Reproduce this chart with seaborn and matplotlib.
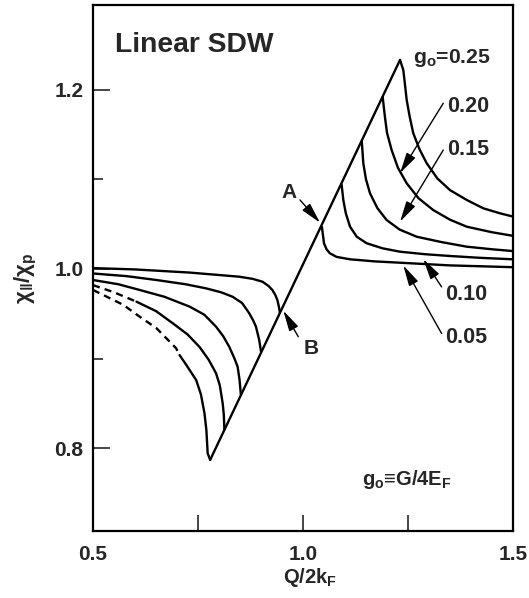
import matplotlib
matplotlib.use("Agg")
import matplotlib.pyplot as plt
import seaborn as sns
import pandas as pd

sns.set_style("white")
plt.rcParams['font.family'] = ['Liberation Sans', 'DejaVu Sans']
plt.rcParams['font.weight'] = 'bold'
plt.rcParams['mathtext.fontset'] = 'custom'
plt.rcParams['mathtext.rm'] = 'Liberation Sans:bold'
plt.rcParams['mathtext.it'] = 'Liberation Sans:bold'
plt.rcParams['mathtext.bf'] = 'Liberation Sans:bold'
plt.rcParams['mathtext.default'] = 'rm'

# ---- data ----
g_labels = ["0.05", "0.10", "0.15", "0.20", "0.25"]

# common diagonal line
diag_x = [0.779, 1.231]
diag_y = [0.787, 1.2333]

# left branches (Q/2kF < 1); dashed parts separate
left_005_x = [0.5, 0.6, 0.73, 0.848, 0.88, 0.9036, 0.918, 0.927, 0.934, 0.939, 0.943, 0.945]
left_005_y = [1.001, 0.9995, 0.996, 0.9914, 0.989, 0.9858, 0.981, 0.9766, 0.971, 0.9654, 0.957, 0.951]

left_010_x = [0.5, 0.58, 0.651, 0.72, 0.769, 0.805, 0.8325, 0.855, 0.872, 0.882, 0.888, 0.8957, 0.900]
left_010_y = [0.995, 0.992, 0.9877, 0.983, 0.9784, 0.974, 0.969, 0.962, 0.9506, 0.942, 0.9356, 0.9208, 0.908]

left_015_x = [0.5, 0.56, 0.611, 0.67, 0.73, 0.765, 0.793, 0.81, 0.8246, 0.836, 0.8443, 0.849, 0.852]
left_015_y = [0.9877, 0.983, 0.9766, 0.969, 0.958, 0.949, 0.9356, 0.925, 0.913, 0.901, 0.891, 0.876, 0.860]

left_020_dash_x = [0.5, 0.55, 0.6035]
left_020_dash_y = [0.982, 0.974, 0.9635]
left_020_x = [0.6035, 0.65, 0.69, 0.725, 0.7536, 0.775, 0.793, 0.802, 0.8088, 0.8115, 0.8128]
left_020_y = [0.9635, 0.953, 0.9394, 0.927, 0.913, 0.899, 0.8836, 0.870, 0.850, 0.837, 0.821]

left_025_dash_x = [0.5, 0.572, 0.611, 0.651, 0.698, 0.706]
left_025_dash_y = [0.9766, 0.960, 0.9468, 0.934, 0.9115, 0.904]
left_025_x = [0.706, 0.722, 0.7457, 0.757, 0.7654, 0.770, 0.773, 0.779]
left_025_y = [0.904, 0.893, 0.876, 0.860, 0.839, 0.820, 0.7943, 0.787]

# right branches (Q/2kF > 1)
right_005_x = [1.045, 1.048, 1.05, 1.056, 1.064, 1.08, 1.112, 1.17, 1.231, 1.35, 1.5]
right_005_y = [1.047, 1.036, 1.0287, 1.022, 1.0175, 1.0135, 1.0108, 1.0085, 1.007, 1.004, 1.002]

right_010_x = [1.092, 1.096, 1.102, 1.112, 1.128, 1.1516, 1.19, 1.231, 1.29, 1.35, 1.42, 1.5]
right_010_y = [1.094, 1.077, 1.062, 1.0472, 1.036, 1.0287, 1.023, 1.0193, 1.0165, 1.0145, 1.0125, 1.0108]

right_015_x = [1.140, 1.1436, 1.150, 1.1595, 1.177, 1.199, 1.23, 1.2707, 1.33, 1.3898, 1.45, 1.5]
right_015_y = [1.142, 1.118, 1.100, 1.0845, 1.068, 1.0547, 1.044, 1.036, 1.030, 1.0249, 1.022, 1.020]

right_020_x = [1.1897, 1.195, 1.2, 1.211, 1.226, 1.2469, 1.275, 1.310, 1.35, 1.3898, 1.45, 1.5]
right_020_y = [1.192, 1.170, 1.152, 1.1328, 1.113, 1.0956, 1.079, 1.0658, 1.055, 1.0472, 1.041, 1.037]

right_025_x = [1.231, 1.2388, 1.243, 1.2469, 1.254, 1.2626, 1.277, 1.2945, 1.32, 1.35, 1.39, 1.4293, 1.47, 1.5]
right_025_y = [1.2333, 1.222, 1.205, 1.1886, 1.170, 1.1514, 1.134, 1.118, 1.101, 1.088, 1.077, 1.0677, 1.062, 1.0585]

x_ticks = [0.5, 1.0, 1.5]
x_minor = [0.75, 1.25]
y_ticks = [0.8, 1.0, 1.2]
y_minor = [0.9, 1.1]

# ---- figure ----
fig = plt.figure(figsize=(5.29, 5.98), dpi=100)
ax = fig.add_axes([93/529, 67/598, 420/529, 526/598])

LW = 1.7
solid = [
    (diag_x, diag_y),
    (left_005_x, left_005_y), (left_010_x, left_010_y), (left_015_x, left_015_y),
    (left_020_x, left_020_y), (left_025_x, left_025_y),
    (right_005_x, right_005_y), (right_010_x, right_010_y), (right_015_x, right_015_y),
    (right_020_x, right_020_y), (right_025_x, right_025_y),
]
for xs, ys in solid:
    df = pd.DataFrame({"x": xs, "y": ys})
    sns.lineplot(data=df, x="x", y="y", ax=ax, color="black", lw=LW, sort=False,
                 estimator=None, solid_capstyle='round', solid_joinstyle='round')
for xs, ys in [(left_020_dash_x, left_020_dash_y), (left_025_dash_x, left_025_dash_y)]:
    df = pd.DataFrame({"x": xs, "y": ys})
    sns.lineplot(data=df, x="x", y="y", ax=ax, color="black", lw=LW, sort=False,
                 estimator=None, linestyle=(0, (3.0, 2.2)))

ax.set_xlim(0.5, 1.5)
ax.set_ylim(0.7076, 1.2946)
ax.set_xticks(x_ticks)
ax.set_xticklabels(["0.5", "1.0", "1.5"])
ax.set_xticks(x_minor, minor=True)
ax.set_yticks(y_ticks)
ax.set_yticklabels(["0.8", "1.0", "1.2"])
ax.set_yticks(y_minor, minor=True)
ax.tick_params(axis='x', which='both', direction='in', length=11.5, width=1.2,
               labelsize=15, pad=10, bottom=True, top=False)
ax.tick_params(axis='y', which='major', direction='in', length=12, width=1.2,
               labelsize=15, pad=7, left=True, right=False)
ax.tick_params(axis='y', which='minor', direction='in', length=7, width=1.2,
               left=True, right=False)
for sp in ax.spines.values():
    sp.set_linewidth(1.6)
    sp.set_color('black')

ax.set_xlabel(r"Q/2k$_\mathrm{F}$", fontsize=14.5, fontweight='bold')
ax.set_ylabel(r"$\chi_{\Vert}/\chi_\mathrm{p}$", fontsize=16)
ax.xaxis.set_label_coords(0.517, -0.066)
ax.yaxis.set_label_coords(-0.128, 0.48)

# texts
ax.text(0.5524, 1.2425, "Linear SDW", fontsize=20.3, fontweight='bold', va='baseline')
ax.text(1.262, 1.2296, r"g$_\mathrm{o}$=0.25", fontsize=15.2, fontweight='bold', va='baseline')
ax.text(1.343, 1.1756, "0.20", fontsize=15.5, fontweight='bold', va='baseline')
ax.text(1.343, 1.1272, "0.15", fontsize=15.5, fontweight='bold', va='baseline')
ax.text(1.338, 0.9654, "0.10", fontsize=15.5, fontweight='bold', va='baseline')
ax.text(1.338, 0.917, "0.05", fontsize=15.5, fontweight='bold', va='baseline')
ax.text(0.949, 1.0789, "A", fontsize=15, fontweight='bold', va='baseline')
ax.text(1.001, 0.905, "B", fontsize=15, fontweight='bold', va='baseline')
ax.text(1.1398, 0.759, r"g$_\mathrm{o}$≡G/4E$_\mathrm{F}$", fontsize=14.5,
        fontweight='bold', va='baseline')

arrow_kw = dict(arrowstyle='-|>,head_length=0.9,head_width=0.22', color='black', lw=1.0,
                shrinkA=0, shrinkB=0, mutation_scale=14)
arrows = [
    ((0.9929, 1.077), (1.0405, 1.0517)),   # A
    ((0.9888, 0.9244), (0.9531, 0.9535)),  # B
    ((1.334, 1.185), (1.231, 1.107)),      # 0.20
    ((1.334, 1.1328), (1.231, 1.0528)),    # 0.15
    ((1.330, 0.980), (1.2864, 1.011)),     # 0.10
    ((1.330, 0.928), (1.2388, 1.004)),     # 0.05
]
for start, tip in arrows:
    ax.annotate("", xy=tip, xytext=start, arrowprops=arrow_kw)

fig.savefig("out.png", dpi=100)
